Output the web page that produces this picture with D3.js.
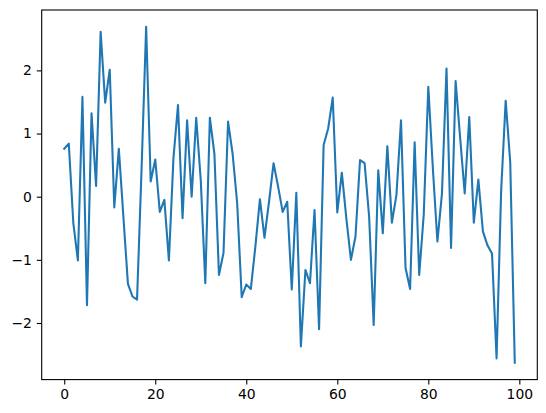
<!DOCTYPE html>
<html>
<head>
  <meta charset="utf-8">
  <script src="https://cdn.jsdelivr.net/npm/d3@7"></script>
  <style>
    body { margin: 0; background: #fff; }
    text { font-family: "DejaVu Sans", sans-serif; font-size: 13.9px; fill: #000; }
  </style>
</head>
<body>
<script>
  // one series, index 0..99
  var values = [
    0.76, 0.84, -0.42, -1.01, 1.58, -1.72, 1.32, 0.17, 2.61, 1.49,
    2.01, -0.17, 0.76, -0.32, -1.38, -1.58, -1.63, 0.45, 2.69, 0.24,
    0.59, -0.24, -0.05, -1.01, 0.61, 1.45, -0.34, 1.21, 0.0, 1.25,
    0.26, -1.37, 1.25, 0.68, -1.24, -0.89, 1.19, 0.68, -0.1, -1.59,
    -1.39, -1.46, -0.79, -0.04, -0.65, -0.08, 0.53, 0.16, -0.24, -0.08,
    -1.47, 0.06, -2.37, -1.16, -1.37, -0.21, -2.1, 0.82, 1.08, 1.57,
    -0.25, 0.38, -0.35, -1.0, -0.63, 0.58, 0.53, -0.32, -2.03, 0.42,
    -0.58, 0.8, -0.41, 0.03, 1.21, -1.13, -1.46, 0.86, -1.24, -0.28,
    1.74, 0.45, -0.71, 0.05, 2.03, -0.81, 1.83, 0.93, 0.05, 1.26,
    -0.41, 0.27, -0.55, -0.77, -0.9, -2.56, 0.08, 1.52, 0.55, -2.63
  ];
  var xTicks = [0, 20, 40, 60, 80, 100];
  var yTicks = [-2, -1, 0, 1, 2];

  var W = 546, H = 413;
  var marginLeft = 41.7, marginTop = 10, pw = 495.6, ph = 369.6;

  var svg = d3.select("body").append("svg")
      .attr("width", W).attr("height", H);

  // matplotlib style 5% margins
  var n = values.length;
  var xpad = (n - 1) * 0.05;
  var ymin = d3.min(values), ymax = d3.max(values), ypad = (ymax - ymin) * 0.05;

  var x = d3.scaleLinear().domain([-xpad, n - 1 + xpad]).range([0, pw]);
  var y = d3.scaleLinear().domain([ymin - ypad, ymax + ypad]).range([ph, 0]);

  var g = svg.append("g").attr("transform", "translate(" + marginLeft + "," + marginTop + ")");

  var line = d3.line()
      .x(function(d, i) { return x(i); })
      .y(function(d) { return y(d); });

  g.append("path")
      .datum(values)
      .attr("d", line)
      .attr("fill", "none")
      .attr("stroke", "#1f77b4")
      .attr("stroke-width", 2.08)
      .attr("stroke-linejoin", "round")
      .attr("stroke-linecap", "square");

  var fmt = function(d) { return d < 0 ? "\u2212" + Math.abs(d) : String(d); };

  var xAxis = g.append("g")
      .attr("transform", "translate(0," + ph + ")")
      .call(d3.axisBottom(x).tickValues(xTicks).tickSize(4.9).tickPadding(4.9).tickFormat(fmt));
  var yAxis = g.append("g")
      .call(d3.axisLeft(y).tickValues(yTicks).tickSize(4.9).tickPadding(4.9).tickFormat(fmt));

  [xAxis, yAxis].forEach(function(a) {
    a.select(".domain").remove();
    a.selectAll(".tick line").attr("stroke", "#000").attr("stroke-width", 1.1);
    a.selectAll(".tick text").attr("font-family", "DejaVu Sans").attr("font-size", 13.9).attr("fill", "#000");
  });

  // axes frame
  g.append("rect")
      .attr("width", pw).attr("height", ph)
      .attr("fill", "none").attr("stroke", "#000").attr("stroke-width", 1.1);
</script>
</body>
</html>
